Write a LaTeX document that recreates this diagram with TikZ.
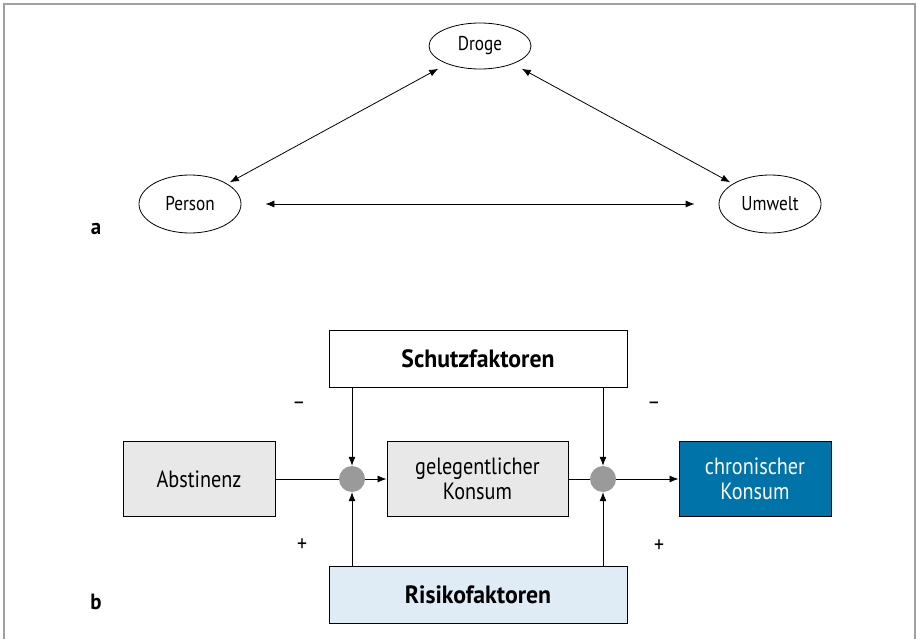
\documentclass[tikz,border=0pt]{standalone}
\usepackage{fontspec}
\setmainfont{PT Sans}[FakeStretch=0.86, BoldFeatures={FakeStretch=0.95}]
\usetikzlibrary{arrows.meta,shapes.geometric,calc}
\definecolor{boxgray}{HTML}{E8E8E8}
\definecolor{chronblue}{HTML}{0073A8}
\definecolor{risikoblue}{HTML}{DFECF6}
\definecolor{framegray}{HTML}{A0A0A0}
\definecolor{dotgray}{HTML}{9A9A9A}
\tikzset{
  ell/.style={draw, ellipse, line width=0.8pt, minimum width=102pt, inner sep=0pt, font=\fontsize{20}{22}\selectfont},
  stagebox/.style={draw, line width=1pt, minimum width=152pt, minimum height=75pt, align=center, font=\fontsize{23.5}{25}\selectfont},
  factorbox/.style={draw, line width=1pt, minimum width=298pt, minimum height=57pt, font=\bfseries\fontsize{25}{27}\selectfont},
  dot/.style={circle, fill=dotgray, minimum size=26pt, inner sep=0pt},
  conn/.style={line width=0.8pt},
  arr/.style={conn, -{Latex[length=9pt,width=7pt]}},
  darr/.style={conn, {Latex[length=9pt,width=7pt]}-{Latex[length=9pt,width=7pt]}},
  sign/.style={font=\fontsize{23}{25}\selectfont},
  panel/.style={font=\bfseries\fontsize{22}{24}\selectfont}
}
\begin{document}
\begin{tikzpicture}[x=1pt,y=-1pt]
\useasboundingbox (0,0) rectangle (917,639);
\draw[framegray, line width=2.5pt] (4,639) -- (4,4) -- (915,4) -- (915,639);

% part a
\node[ell, minimum height=46pt] (droge) at (480,46) {Droge};
\node[ell, minimum height=58pt] (person) at (190,204) {Person};
\node[ell, minimum height=58pt] (umwelt) at (770,204) {Umwelt};
\draw[darr, shorten <=3pt, shorten >=10pt] (person) -- (droge);
\draw[darr, shorten <=10pt, shorten >=3pt] (droge) -- (umwelt);
\draw[darr, shorten <=24pt, shorten >=24pt] (person) -- (umwelt);
\node[panel] (la) at (96,229) {a};

% part b
\node[factorbox] (schutz) at (478,359) {Schutzfaktoren};
\node[factorbox, fill=risikoblue] (risiko) at (478,595) {Risikofaktoren};
\node[stagebox, fill=boxgray] (abst) at (199,479) {Abstinenz};
\node[stagebox, fill=boxgray, minimum width=181pt] (gel) at (477.5,479) {gelegentlicher\\Konsum};
\node[stagebox, fill=chronblue, text=white] (chron) at (755,479) {chronischer\\Konsum};
\node[dot] (c1) at (352,479) {};
\node[dot] (c2) at (603,479) {};

\draw[conn] (abst.east) -- (c1.west);
\draw[arr] (c1.east) -- (gel.west);
\draw[conn] (gel.east) -- (c2.west);
\draw[arr] (c2.east) -- (chron.west);
\draw[arr] (schutz.south -| c1) -- (c1.north);
\draw[arr] (schutz.south -| c2) -- (c2.north);
\draw[arr] (risiko.north -| c1) -- (c1.south);
\draw[arr] (risiko.north -| c2) -- (c2.south);

\node[sign] (m1) at (299,406) {–};
\node[sign] (m2) at (654,406) {–};
\node[sign] (p1) at (302,545) {+};
\node[sign] (p2) at (659,546) {+};
\node[panel] (lb) at (96,602) {b};
\end{tikzpicture}
\end{document}
